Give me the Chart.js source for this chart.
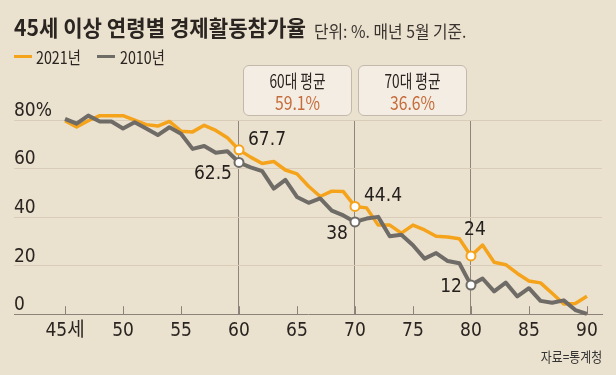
<!DOCTYPE html>
<html><head><meta charset="utf-8">
<script src="https://cdn.jsdelivr.net/npm/chart.js@4.4.0/dist/chart.umd.min.js"></script>
<style>
html,body{margin:0;padding:0;background:#EBE1CF;}
#wrap{position:relative;width:616px;height:375px;overflow:hidden;background:#EBE1CF;font-family:'Noto Sans CJK KR',sans-serif;color:#2a2521;}
canvas{position:absolute;left:0;top:0;}
.t{position:absolute;white-space:nowrap;line-height:1;}
#title{left:14px;top:15px;font-size:22px;font-weight:700;transform:scaleX(0.96);transform-origin:left top;}
#sub{left:314px;top:22px;font-size:17px;color:#3a3430;transform:scaleX(0.93);transform-origin:left top;}
.leg{top:48px;font-size:17px;transform:scaleX(0.84);transform-origin:left top;}
.sw{position:absolute;top:55px;width:18px;height:3px;}
.box{position:absolute;top:65px;width:107px;height:49px;border:1px solid #C2B8AB;border-radius:6px;background:#F3EDE4;text-align:center;}
.box .a{position:absolute;left:0;right:0;top:5px;font-size:18px;line-height:1;transform:scaleX(0.76);}
.box .b{position:absolute;left:0;right:0;top:26px;font-size:19px;line-height:1;color:#C66B3A;transform:scaleX(0.83);font-family:'Liberation Sans Narrow','Noto Sans CJK KR',sans-serif;}
#src{right:14px;top:349px;font-size:14px;transform:scaleX(0.85);transform-origin:right top;color:#333;}
</style></head>
<body><div id="wrap">
<canvas id="c" width="616" height="375"></canvas>
<div class="t" id="title">45세 이상 연령별 경제활동참가율</div>
<div class="t" id="sub">단위: %. 매년 5월 기준.</div>
<div class="sw" style="left:14px;background:#F4A31B"></div>
<div class="t leg" style="left:36px">2021년</div>
<div class="sw" style="left:97px;background:#6F6B67"></div>
<div class="t leg" style="left:120px">2010년</div>
<div id="boxes"></div>
<div class="t" id="src">자료=통계청</div>
</div>
<script>
const ages = [45,46,47,48,49,50,51,52,53,54,55,56,57,58,59,60,61,62,63,64,65,66,67,68,69,70,71,72,73,74,75,76,77,78,79,80,81,82,83,84,85,86,87,88,89,90];
const rate2021 = [79.7,77.1,79.7,81.8,81.8,81.8,79.9,78.1,77.5,79.4,75.4,75.1,77.8,75.7,72.7,67.7,64.7,62.1,62.9,59.4,57.8,52.7,48.5,50.7,50.5,44.4,43.8,36.7,36.7,33.4,36.7,34.7,32.1,31.8,31.1,24,28.5,21.4,20.4,16.8,13.7,12.9,8.6,4.2,4.4,7.4];
const rate2010 = [80.5,78.5,81.8,79.4,79.4,76.5,79.1,76.5,73.8,77.0,74.3,68.1,69.3,66.5,67.1,62.5,60.5,58.9,51.7,55.3,48.3,45.9,47.7,42.7,40.7,38,39.4,40.1,32.1,32.7,28.4,22.9,25.2,21.9,21.0,12,14.7,9.4,13.0,7.3,10.7,5.5,4.7,5.7,1.7,0.1];
const highlightAges = [60,70,80];
const xTickValues = [45,50,55,60,65,70,75,80,85,90];
const xTickLabels = ['45세','50','55','60','65','70','75','80','85','90'];
const yTickValues = [0,20,40,60,80];
const yTickLabels = ['0','20','40','60','80%'];
const boxLabels = ['60대 평균','70대 평균'];
const boxValues = [59.1,36.6];

const boxLefts = [243,358];
const boxesEl = document.getElementById('boxes');
boxLabels.forEach((l,i)=>{
  const d = document.createElement('div');
  d.className='box'; d.style.left = boxLefts[i]+'px';
  d.innerHTML = '<div class="a">'+l+'</div><div class="b">'+boxValues[i].toFixed(1)+'%</div>';
  boxesEl.appendChild(d);
});

const NUMFONT = "'Liberation Sans Narrow','DejaVu Sans Condensed','Noto Sans CJK KR',sans-serif";
const ORANGE = '#F4A31B', GRAY = '#6F6B67';

const ptR = ctx => highlightAges.includes(ages[ctx.dataIndex]) ? 4.5 : 0;

const extras = {
  id:'extras',
  beforeDatasetsDraw(chart){
    const {ctx, scales:{x,y}} = chart;
    ctx.save();
    ctx.strokeStyle = '#8B8279'; ctx.lineWidth = 1;
    const b = y.getPixelForValue(0);
    xTickValues.forEach(v=>{
      const px = Math.round(x.getPixelForValue(v))+0.5;
      ctx.beginPath(); ctx.moveTo(px,b); ctx.lineTo(px,b-8); ctx.stroke();
    });
    ctx.restore();
  },
  afterDatasetsDraw(chart){
    const {ctx} = chart;
    ctx.save();
    ctx.font = '19px '+NUMFONT;
    ctx.fillStyle = '#24201d';
    ctx.textBaseline = 'middle';
    const m0 = chart.getDatasetMeta(0).data; // 2010
    const m1 = chart.getDatasetMeta(1).data; // 2021
    const d0 = chart.data.datasets[0].data, d1 = chart.data.datasets[1].data;
    highlightAges.forEach((a,k)=>{
      const i = ages.indexOf(a);
      const p1 = m1[i], p0 = m0[i];
      if(k<2){
        ctx.textAlign='left'; ctx.fillText(String(d1[i]), p1.x+9, p1.y-10);
        ctx.textAlign='right'; ctx.fillText(String(d0[i]), p0.x-7, p0.y+12);
      } else {
        ctx.textAlign='center'; ctx.fillText(String(d1[i]), p1.x+4, p1.y-26);
        ctx.textAlign='right'; ctx.fillText(String(d0[i]), p0.x-9, p0.y+2);
      }
    });
    ctx.restore();
  }
};

new Chart(document.getElementById('c'), {
  type:'line',
  data:{
    labels: ages,
    datasets:[
      {label:'2010년', data: rate2010, borderColor:GRAY, borderWidth:4, pointRadius:ptR, pointBackgroundColor:'#fff', pointBorderColor:GRAY, pointBorderWidth:2, tension:0, borderJoinStyle:'round', clip:false},
      {label:'2021년', data: rate2021, borderColor:ORANGE, borderWidth:3.5, pointRadius:ptR, pointBackgroundColor:'#fff', pointBorderColor:ORANGE, pointBorderWidth:2, tension:0, borderJoinStyle:'round', clip:false}
    ]
  },
  options:{
    responsive:false, animation:false, devicePixelRatio:1,
    layout:{padding:{left:14,right:14,top:120,bottom:28}},
    plugins:{legend:{display:false}, tooltip:{enabled:false}},
    scales:{
      x:{type:'linear', min:40.6, max:91.3,
        afterBuildTicks(s){ s.ticks = xTickValues.map(v=>({value:v})); },
        ticks:{padding:5, color:'#2a2521', font:{family:NUMFONT,size:19}, maxRotation:0, autoSkip:false,
          callback:(v)=>{const i=xTickValues.indexOf(v); return i>=0?xTickLabels[i]:'';}},
        grid:{drawTicks:false, color:c=> (c.tick && highlightAges.includes(c.tick.value)) ? '#8E857B' : 'rgba(0,0,0,0)', lineWidth:1},
        border:{display:true, color:'#8B8279', width:1}
      },
      y:{min:0, max:80,
        afterBuildTicks(s){ s.ticks = yTickValues.map(v=>({value:v})); },
        ticks:{mirror:true, padding:0, labelOffset:-9, color:'#2a2521', font:{family:NUMFONT,size:19},
          callback:(v)=>{const i=yTickValues.indexOf(v); return i>=0?yTickLabels[i]:'';}},
        grid:{drawTicks:false, color:c=> (c.tick && c.tick.value===0) ? 'rgba(0,0,0,0)' : '#D9CDB9', lineWidth:1},
        border:{display:false}
      }
    }
  },
  plugins:[extras]
});
</script>
</body></html>
